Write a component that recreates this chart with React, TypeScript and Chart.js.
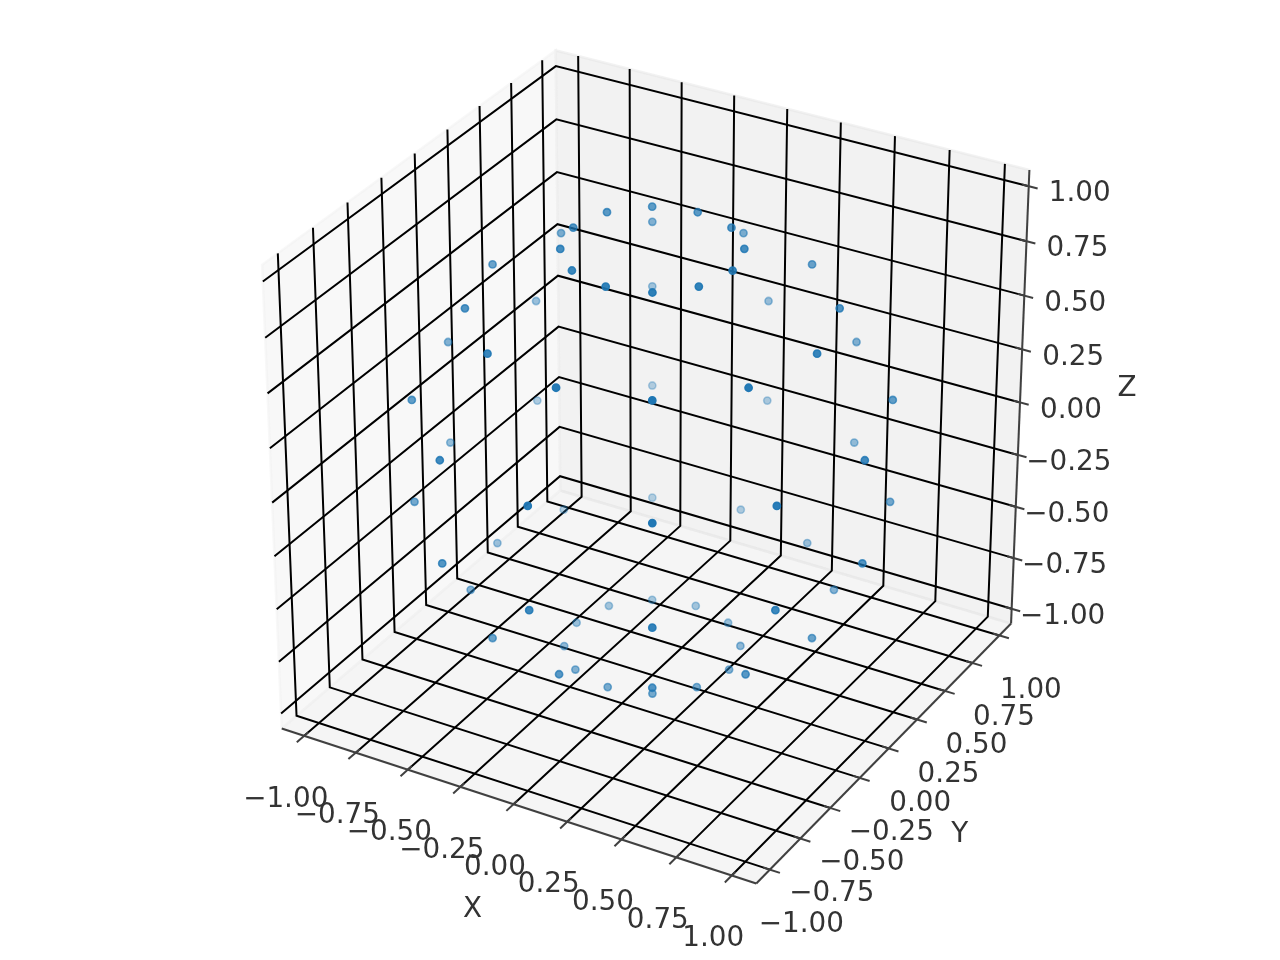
import React, { useEffect, useRef } from "react";
import { Chart, registerables } from "chart.js";

Chart.register(...registerables);

const xValues = [
  0.365, 0.316, 0.183, 0, -0.183, -0.316, -0.365, -0.316, -0.183, 0, 0.183, 0.316,
  0.748, 0.648, 0.374, 0, -0.374, -0.648, -0.748, -0.648, -0.374, 0, 0.374, 0.648,
  0.97, 0.84, 0.485, 0, -0.485, -0.84, -0.97, -0.84, -0.485, 0, 0.485, 0.84,
  0.97, 0.84, 0.485, 0, -0.485, -0.84, -0.97, -0.84, -0.485, 0, 0.485, 0.84,
  0.748, 0.648, 0.374, 0, -0.374, -0.648, -0.748, -0.648, -0.374, 0, 0.374, 0.648,
  0.365, 0.316, 0.183, 0, -0.183, -0.316, -0.365, -0.316, -0.183, 0, 0.183, 0.316,
];
const yValues = [
  0, 0.183, 0.316, 0.365, 0.316, 0.183, 0, -0.183, -0.316, -0.365, -0.316, -0.183,
  0, 0.374, 0.648, 0.748, 0.648, 0.374, 0, -0.374, -0.648, -0.748, -0.648, -0.374,
  0, 0.485, 0.84, 0.97, 0.84, 0.485, 0, -0.485, -0.84, -0.97, -0.84, -0.485,
  0, 0.485, 0.84, 0.97, 0.84, 0.485, 0, -0.485, -0.84, -0.97, -0.84, -0.485,
  0, 0.374, 0.648, 0.748, 0.648, 0.374, 0, -0.374, -0.648, -0.748, -0.648, -0.374,
  0, 0.183, 0.316, 0.365, 0.316, 0.183, 0, -0.183, -0.316, -0.365, -0.316, -0.183,
];
const zValues = [
  0.929, 0.929, 0.929, 0.929, 0.929, 0.929, 0.929, 0.929, 0.929, 0.929, 0.929, 0.929,
  0.661, 0.661, 0.661, 0.661, 0.661, 0.661, 0.661, 0.661, 0.661, 0.661, 0.661, 0.661,
  0.241, 0.241, 0.241, 0.241, 0.241, 0.241, 0.241, 0.241, 0.241, 0.241, 0.241, 0.241,
  -0.236, -0.236, -0.236, -0.236, -0.236, -0.236, -0.236, -0.236, -0.236, -0.236, -0.236, -0.236,
  -0.657, -0.657, -0.657, -0.657, -0.657, -0.657, -0.657, -0.657, -0.657, -0.657, -0.657, -0.657,
  -0.93, -0.93, -0.93, -0.93, -0.93, -0.93, -0.93, -0.93, -0.93, -0.93, -0.93, -0.93,
];
const tickValues = [-1, -0.75, -0.5, -0.25, 0, 0.25, 0.5, 0.75, 1];
const tickLabels = ["\u22121.00", "\u22120.75", "\u22120.50", "\u22120.25", "0.00", "0.25", "0.50", "0.75", "1.00"];

const LIMIT_XY = 1.11;
const LIMIT_Z = 1.073;
const TICK_IN = 0.03;
const WORLD_PER_UNIT = 0.472;
const SCALE = 5223;
const CENTER_X = 652.3;
const CENTER_Y = 451.7;
const DIST = 10;
const LINE_WIDTH = 2;
const TEXT_COLOR = "#333333";
const AXIS_COLOR = "#404040";
const FONT = '27.8px "DejaVu Sans"';

const U = [0.866025, 0.5, 0];
const V = [-0.25, 0.433013, 0.866025];
const W = [0.433013, -0.75, 0.5];

function project(x: number, y: number, z: number) {
  const d = [x * WORLD_PER_UNIT, y * WORLD_PER_UNIT, z * WORLD_PER_UNIT];
  const dot = (a: number[]) => a[0] * d[0] + a[1] * d[1] + a[2] * d[2];
  const depth = DIST - dot(W);
  return { x: dot(U) / depth, y: dot(V) / depth, depth };
}
const P = (x: number, y: number, z: number) => {
  const p = project(x, y, z);
  return { x: p.x, y: p.y };
};

const L = LIMIT_XY;
const H = LIMIT_Z;

function lineDataset(data: { x: number; y: number }[], color: string, order: number) {
  return { data, showLine: true, borderColor: color, borderWidth: LINE_WIDTH, pointRadius: 0, fill: false, order, borderCapStyle: "butt", borderJoinStyle: "miter" };
}
function paneDataset(data: { x: number; y: number }[], color: string, order: number) {
  return { data, showLine: true, borderColor: color, backgroundColor: color, borderWidth: 2.5, pointRadius: 0, fill: "shape", order };
}

function buildDatasets() {
  const sets: any[] = [];
  sets.push(paneDataset([P(-L, -L, -H), P(-L, L, -H), P(-L, L, H), P(-L, -L, H), P(-L, -L, -H)], "rgba(242,242,242,0.5)", 100));
  sets.push(paneDataset([P(-L, L, -H), P(L, L, -H), P(L, L, H), P(-L, L, H), P(-L, L, -H)], "rgba(230,230,230,0.5)", 100));
  sets.push(paneDataset([P(-L, -L, -H), P(L, -L, -H), P(L, L, -H), P(-L, L, -H), P(-L, -L, -H)], "rgba(236,236,236,0.5)", 100));

  for (const t of tickValues) {
    sets.push(lineDataset([P(t, -L, -H), P(t, L, -H), P(t, L, H)], "#000000", 50));
    sets.push(lineDataset([P(L, t, -H), P(-L, t, -H), P(-L, t, H)], "#000000", 50));
    sets.push(lineDataset([P(-L, -L, t), P(-L, L, t), P(L, L, t)], "#000000", 50));
    sets.push(lineDataset([P(t, -L + TICK_IN, -H), P(t, -L - 0.055, -H)], AXIS_COLOR, 40));
    sets.push(lineDataset([P(L - TICK_IN, t, -H), P(L + 0.045, t, -H)], AXIS_COLOR, 40));
    sets.push(lineDataset([P(L - TICK_IN, L, t), P(L + 0.04, L, t)], AXIS_COLOR, 40));
  }
  sets.push(lineDataset([P(-L, -L, -H), P(L, -L, -H)], AXIS_COLOR, 30));
  sets.push(lineDataset([P(L, -L, -H), P(L, L, -H)], AXIS_COLOR, 30));
  sets.push(lineDataset([P(L, L, -H), P(L, L, H)], AXIS_COLOR, 30));

  const pts = xValues.map((x, i) => project(x, yValues[i], zValues[i]));
  const depths = pts.map((p) => p.depth);
  const lo = Math.min(...depths);
  const hi = Math.max(...depths);
  const sorted = pts.slice().sort((a, b) => b.depth - a.depth);
  const colors = sorted.map((p) => `rgba(31,119,180,${(1 - (0.7 * (p.depth - lo)) / (hi - lo)).toFixed(3)})`);
  sets.push({
    data: sorted.map((p) => ({ x: p.x, y: p.y })),
    showLine: false,
    pointRadius: 3.6,
    pointBorderWidth: 1.6,
    pointBackgroundColor: colors,
    pointBorderColor: colors,
    order: 0,
  });
  return sets;
}

const labelsPlugin = {
  id: "axisText",
  afterDraw(chart: any) {
    const { ctx, scales } = chart;
    const put = (t: string, p: { x: number; y: number }, dx: number, dy: number) => {
      ctx.fillText(t, scales.x.getPixelForValue(p.x) + dx, scales.y.getPixelForValue(p.y) + dy);
    };
    ctx.save();
    ctx.font = FONT;
    ctx.fillStyle = TEXT_COLOR;
    ctx.textAlign = "center";
    ctx.textBaseline = "middle";
    tickValues.forEach((t, i) => {
      put(tickLabels[i], P(t, -L, -H), -18.5, 63.5);
      put(tickLabels[i], P(L, t, -H), 31.5, 55);
      put(tickLabels[i], P(L, L, t), 51, 8);
    });
    put("X", P(0, -L, -H), -41, 106);
    put("Y", P(L, 0, -H), 71, 86);
    put("Z", P(L, L, 0), 107, -14);
    ctx.restore();
  },
};

export default function App() {
  const ref = useRef<HTMLCanvasElement>(null);
  useEffect(() => {
    if (!ref.current) return;
    const chart = new Chart(ref.current, {
      type: "scatter",
      data: { datasets: buildDatasets() },
      plugins: [labelsPlugin],
      options: {
        animation: false,
        responsive: false,
        devicePixelRatio: 1,
        layout: { padding: 0, autoPadding: false },
        plugins: { legend: { display: false }, tooltip: { enabled: false } },
        scales: {
          x: { type: "linear", display: false, min: -CENTER_X / SCALE, max: (1280 - CENTER_X) / SCALE },
          y: { type: "linear", display: false, min: (CENTER_Y - 960) / SCALE, max: CENTER_Y / SCALE },
        },
      },
    } as any);
    return () => chart.destroy();
  }, []);
  return (
    <canvas
      ref={ref}
      width={1280}
      height={960}
      style={{ position: "absolute", left: 0, top: 0, width: 1280, height: 960, background: "#ffffff" }}
    />
  );
}
